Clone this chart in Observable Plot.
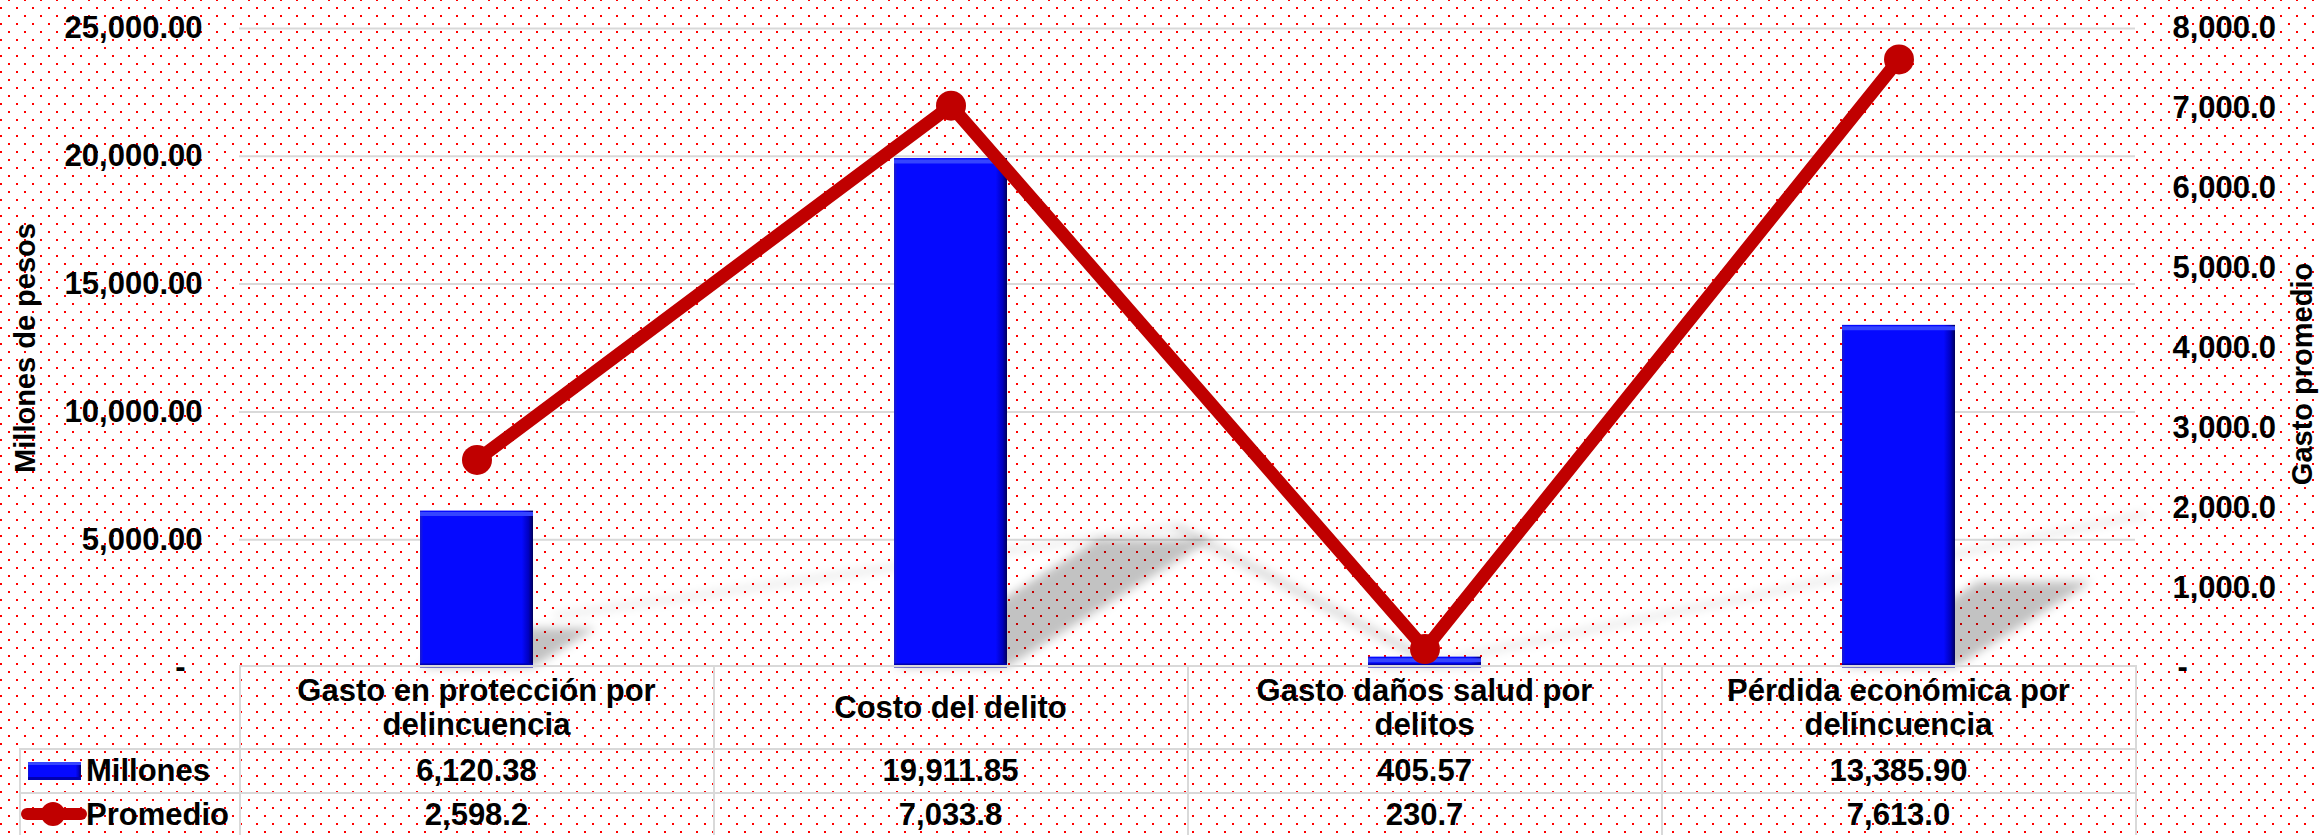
<!DOCTYPE html>
<html>
<head>
<meta charset="utf-8">
<script src="https://cdn.jsdelivr.net/npm/d3@7"></script>
<script src="https://cdn.jsdelivr.net/npm/@observablehq/plot@0.6"></script>
<style>
html, body {
  margin: 0; padding: 0; width: 2320px; height: 835px; overflow: hidden;
  background-color: #ffffff;
  background-image: url("data:image/svg+xml,%3Csvg xmlns='http://www.w3.org/2000/svg' width='16' height='16'%3E%3Crect x='0' y='6' width='2' height='2' fill='%23ff0000'/%3E%3Crect x='8' y='14' width='2' height='2' fill='%23ff0000'/%3E%3C/svg%3E");
  background-size: 16px 16px;
  background-position: 0 1px;
}
#wrap { position: relative; width: 2320px; height: 835px; font-family: "Liberation Sans", Arial, sans-serif; font-weight: bold; color: #000; }
#chart svg { position: absolute; left: 0; top: 0; }
.cell { position: absolute; display: flex; align-items: center; justify-content: center; text-align: center; font-size: 31px; line-height: 34px; white-space: pre-line; }
.lab { position: absolute; display: flex; align-items: center; font-size: 31px; }
.hl { position: absolute; height: 2px; background: #d9d9d9; }
.vl { position: absolute; width: 2px; background: #d9d9d9; }
</style>
</head>
<body>
<svg width="0" height="0" style="position:absolute">
  <defs>
    <linearGradient id="barGrad" x1="0" y1="0" x2="1" y2="0">
      <stop offset="0" stop-color="#1c1cc8"/>
      <stop offset="0.03" stop-color="#0509ff"/>
      <stop offset="0.9" stop-color="#0509ff"/>
      <stop offset="0.96" stop-color="#0000c0"/>
      <stop offset="1" stop-color="#00005a"/>
    </linearGradient>
    <filter id="shadowBlur" x="-20%" y="-40%" width="140%" height="180%">
      <feGaussianBlur stdDeviation="5"/>
    </filter>
  </defs>
</svg>
<div id="wrap"><div id="chart"></div></div>
<script>
// ---- data ----
const categories = [
  "Gasto en protección por\ndelincuencia",
  "Costo del delito",
  "Gasto daños salud por\ndelitos",
  "Pérdida económica por\ndelincuencia"
];
const millones = [6120.38, 19911.85, 405.57, 13385.90];
const promedio = [2598.2, 7033.8, 230.7, 7613.0];
const leftTicks = [0, 5000, 10000, 15000, 20000, 25000];
const rightTicks = [0, 1000, 2000, 3000, 4000, 5000, 6000, 7000, 8000];
const seriesNames = ["Millones", "Promedio"];
const leftTitle = "Millones de pesos";
const rightTitle = "Gasto promedio";

// ---- derived ----
const leftMax = 25000, rightMax = 8000;
const k = leftMax / rightMax;
const data = categories.map((c, i) => ({cat: c, millones: millones[i], promedio: promedio[i]}));
const fmtL = d3.format(",.2f"), fmtR = d3.format(",.1f");
const FONT = '"Liberation Sans", Arial, sans-serif';
const RED = "#C00000";
const txt = {fontSize: 31, fontWeight: "bold", fontFamily: FONT};

const chart = Plot.plot({
  width: 2320, height: 835,
  marginTop: 28, marginBottom: 168, marginLeft: 239, marginRight: 185,
  style: {background: "transparent", overflow: "visible", fontFamily: FONT, color: "#000"},
  x: {type: "band", domain: categories, paddingInner: 0.762, paddingOuter: 0.381, axis: null},
  y: {domain: [0, leftMax], axis: null},
  marks: [
    Plot.ruleY(leftTicks.filter(t => t > 0), {y: d => d, stroke: "#d9d9d9", strokeWidth: 2}),
    Plot.barY(data, {x: "cat", y: "millones", fill: "#000", fillOpacity: 0.24, ariaDescription: "shadow-bar"}),
    Plot.line(data, {x: "cat", y: d => d.promedio * k, stroke: "#000", strokeOpacity: 0.15, strokeWidth: 13, ariaDescription: "shadow-line"}),
    Plot.barY(data, {x: "cat", y: "millones", fill: "url(#barGrad)"}),
    Plot.tickY(data, {x: "cat", y: "millones", stroke: "#3545ff", strokeWidth: 4, dy: 3}),
    Plot.tickY(data, {x: "cat", y: () => 0, stroke: "#0000b0", strokeWidth: 4, dy: -2}),
    Plot.line(data, {x: "cat", y: d => d.promedio * k, stroke: RED, strokeWidth: 13}),
    Plot.dot(data, {x: "cat", y: d => d.promedio * k, r: 15, fill: RED, stroke: "none"}),
    Plot.text(leftTicks.filter(t => t > 0), {y: d => d, text: d => fmtL(d), frameAnchor: "left", textAnchor: "end", dx: -37, ...txt}),
    Plot.text([0], {y: d => d, text: () => "-", frameAnchor: "left", textAnchor: "end", dx: -54, ...txt}),
    Plot.text(rightTicks.filter(t => t > 0), {y: d => d * k, text: d => fmtR(d), frameAnchor: "right", textAnchor: "start", dx: 37, ...txt}),
    Plot.text([0], {y: d => d, text: () => "-", frameAnchor: "right", textAnchor: "start", dx: 42, ...txt}),
    Plot.text([leftTitle], {text: d => d, frameAnchor: "left", textAnchor: "middle", dx: -214, rotate: -90, fontSize: 29, fontWeight: "bold", fontFamily: FONT}),
    Plot.text([rightTitle], {text: d => d, frameAnchor: "right", textAnchor: "middle", dx: 167, dy: 26, rotate: -90, fontSize: 29, fontWeight: "bold", fontFamily: FONT})
  ]
});
document.getElementById("chart").appendChild(chart);

// ---- perspective shadows ----
const yS = chart.scale("y");
const Y0 = yS.apply(0);
const A = 0.4, B = 0.25;
let shadows = Array.from(chart.querySelectorAll('[aria-description^="shadow"]'));
if (shadows.length < 2) {
  shadows = [chart.querySelectorAll('g[aria-label="bar"]')[0], chart.querySelectorAll('g[aria-label="line"]')[0]].filter(Boolean);
}
const ns = "http://www.w3.org/2000/svg";
shadows.forEach(g => {
  const outer = document.createElementNS(ns, "g");
  outer.setAttribute("filter", "url(#shadowBlur)");
  const inner = document.createElementNS(ns, "g");
  inner.setAttribute("transform", `matrix(1,0,${-A},${B},${A * Y0},${Y0 * (1 - B)})`);
  g.parentNode.insertBefore(outer, g);
  outer.appendChild(inner);
  inner.appendChild(g);
});

// ---- data table below the plot ----
const xS = chart.scale("x");
const step = xS.step, bw = xS.bandwidth;
const centers = categories.map(c => xS.apply(c) + bw / 2);
const colLeft = centers.map(c => c - step / 2);
const tableLeft = colLeft[0], tableRight = colLeft[colLeft.length - 1] + step;
const legendLeft = 20;
const top0 = Y0 - 1;
const rowH = [83, 44, 44];
const rowTop = [top0, top0 + rowH[0], top0 + rowH[0] + rowH[1]];
const bottom = rowTop[2] + rowH[2];
const wrap = document.getElementById("wrap");
function add(cls, st, html) {
  const d = document.createElement("div");
  d.className = cls;
  Object.assign(d.style, st);
  if (html != null) d.innerHTML = html;
  wrap.appendChild(d);
  return d;
}
// horizontal lines
add("hl", {left: tableLeft - 1 + "px", top: top0 - 1 + "px", width: tableRight - tableLeft + 2 + "px"});
add("hl", {left: legendLeft - 1 + "px", top: rowTop[1] - 1 + "px", width: tableRight - legendLeft + 2 + "px"});
add("hl", {left: legendLeft - 1 + "px", top: rowTop[2] - 1 + "px", width: tableRight - legendLeft + 2 + "px"});
add("hl", {left: legendLeft - 1 + "px", top: bottom - 1 + "px", width: tableRight - legendLeft + 2 + "px"});
// vertical lines
colLeft.concat([tableRight]).forEach(x => add("vl", {left: x - 1 + "px", top: top0 - 1 + "px", height: bottom - top0 + 2 + "px"}));
add("vl", {left: legendLeft - 1 + "px", top: rowTop[1] - 1 + "px", height: bottom - rowTop[1] + 2 + "px"});
// header and value texts
const esc = s => s.replace(/&/g, "&amp;").replace(/</g, "&lt;");
categories.forEach((c, i) => {
  add("cell", {left: colLeft[i] + "px", top: rowTop[0] + "px", width: step + "px", height: rowH[0] + "px"}, esc(c));
  add("cell", {left: colLeft[i] + "px", top: rowTop[1] + "px", width: step + "px", height: rowH[1] + "px"}, fmtL(millones[i]));
  add("cell", {left: colLeft[i] + "px", top: rowTop[2] + "px", width: step + "px", height: rowH[2] + "px"}, fmtR(promedio[i]));
});
// legend keys
add("lab", {left: legendLeft + "px", top: rowTop[1] + "px", width: (tableLeft - legendLeft) + "px", height: rowH[1] + "px"},
  `<svg width="53" height="18" style="position:absolute;left:8px;top:13px"><rect width="53" height="18" fill="url(#barGrad)"/><rect x="0" y="0" width="53" height="3" fill="#3545ff"/><rect x="0" y="15" width="53" height="3" fill="#0000b0"/></svg><span style="position:absolute;left:66px">${seriesNames[0]}</span>`);
add("lab", {left: legendLeft + "px", top: rowTop[2] + "px", width: (tableLeft - legendLeft) + "px", height: rowH[2] + "px"},
  `<svg width="66" height="26" style="position:absolute;left:1px;top:8px"><line x1="6" y1="13" x2="60" y2="13" stroke="${RED}" stroke-width="12" stroke-linecap="round"/><circle cx="32" cy="13" r="12" fill="${RED}"/></svg><span style="position:absolute;left:66px">${seriesNames[1]}</span>`);
</script>
</body>
</html>
